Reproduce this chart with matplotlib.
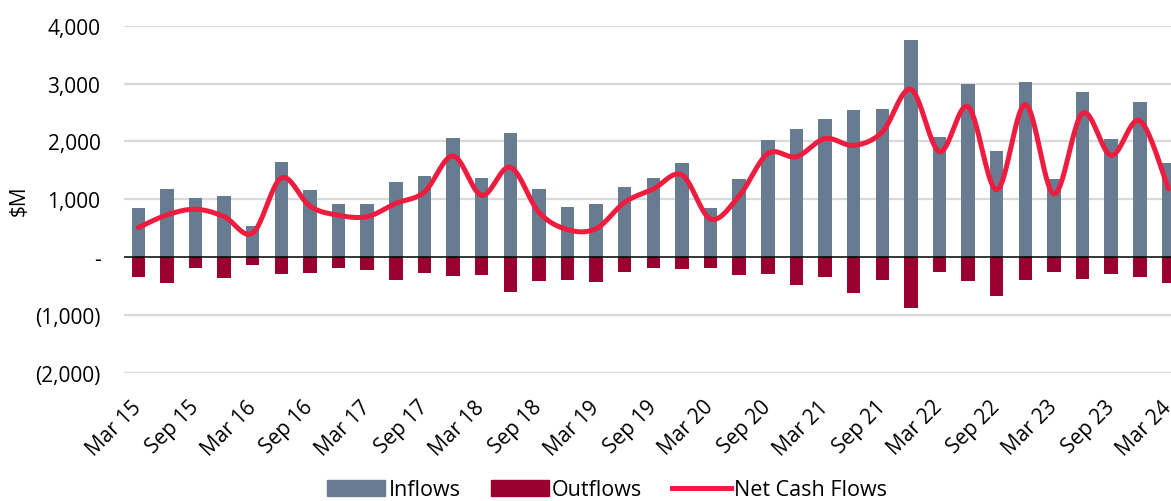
import numpy as np
import matplotlib
matplotlib.use("Agg")
import matplotlib.pyplot as plt
from matplotlib.patches import Patch
from matplotlib.lines import Line2D

plt.rcParams['font.family'] = ['Open Sans', 'DejaVu Sans']

# quarterly data, Mar 15 .. Mar 24 ($M)
quarters = ["Mar 15", "Jun 15", "Sep 15", "Dec 15", "Mar 16", "Jun 16", "Sep 16", "Dec 16",
            "Mar 17", "Jun 17", "Sep 17", "Dec 17", "Mar 18", "Jun 18", "Sep 18", "Dec 18",
            "Mar 19", "Jun 19", "Sep 19", "Dec 19", "Mar 20", "Jun 20", "Sep 20", "Dec 20",
            "Mar 21", "Jun 21", "Sep 21", "Dec 21", "Mar 22", "Jun 22", "Sep 22", "Dec 22",
            "Mar 23", "Jun 23", "Sep 23", "Dec 23", "Mar 24"]
inflows = [857, 1180, 1019, 1054, 546, 1641, 1157, 915, 921, 1306, 1399, 2066, 1370,
           2147, 1180, 864, 921, 1209, 1364, 1623, 846, 1347, 2026, 2221, 2383, 2549,
           2556, 3753, 2078, 2998, 1831, 3028, 1352, 2850, 2038, 2682, 1634]
outflows = [-345, -449, -190, -352, -128, -283, -276, -190, -219, -392, -271, -323, -300,
            -594, -404, -387, -427, -259, -185, -202, -185, -306, -283, -484, -340, -617,
            -392, -876, -254, -409, -668, -392, -259, -369, -283, -335, -449]
net = [512, 731, 829, 702, 418, 1370, 881, 725, 702, 930, 1128, 1750, 1070, 1553, 776,
       477, 494, 950, 1179, 1421, 661, 1060, 1790, 1737, 2050, 1932, 2164, 2900, 1824,
       2600, 1163, 2640, 1093, 2490, 1760, 2360, 1185]

c_in = "#677C91"
c_out = "#990030"
c_net = "#EE1C3F"

x = np.arange(len(quarters))


def smooth(xs, ys, n=20):
    # excel-style smoothed line (catmull-rom bezier)
    xs = np.asarray(xs, float)
    ys = np.asarray(ys, float)
    px = np.concatenate([[xs[0]], xs, [xs[-1]]])
    py = np.concatenate([[ys[0]], ys, [ys[-1]]])
    ox, oy = [], []
    t = np.linspace(0, 1, n, endpoint=False)
    for i in range(1, len(px) - 2):
        p0 = np.array([px[i], py[i]])
        p3 = np.array([px[i + 1], py[i + 1]])
        p1 = p0 + (p3 - np.array([px[i - 1], py[i - 1]])) / 6
        p2 = p3 - (np.array([px[i + 2], py[i + 2]]) - p0) / 6
        for tt in t:
            b = ((1 - tt) ** 3 * p0 + 3 * (1 - tt) ** 2 * tt * p1
                 + 3 * (1 - tt) * tt ** 2 * p2 + tt ** 3 * p3)
            ox.append(b[0])
            oy.append(b[1])
    ox.append(xs[-1])
    oy.append(ys[-1])
    return ox, oy


fig = plt.figure(figsize=(11.71, 5.02), dpi=100)
ax = fig.add_axes([124 / 1171, 1 - 374 / 502, 1 - 124 / 1171, (374 - 26.7) / 502])

for v in [-2000, -1000, 1000, 2000, 3000, 4000]:
    ax.axhline(v, color="#D9D9D9", lw=1.6, zorder=0)

ax.bar(x, inflows, width=0.47, color=c_in, zorder=2)
ax.bar(x, outflows, width=0.47, color=c_out, zorder=2)
ax.axhline(0, color="black", lw=1.1, zorder=3)
sx, sy = smooth(x, net)
ax.plot(sx, sy, color=c_net, lw=3.6, solid_capstyle="round", zorder=4)

ax.set_xlim(-0.5, 36.09)
ax.set_ylim(-2000, 4000)
ax.set_yticks([4000, 3000, 2000, 1000, 0, -1000, -2000])
ax.set_yticklabels(["4,000", "3,000", "2,000", "1,000", "-", "(1,000)", "(2,000)"])
ax.set_xticks(x[::2])
ax.set_xticklabels(quarters[::2], rotation=45, ha="right", va="center",
                   rotation_mode="anchor")
ax.tick_params(axis="y", length=0, pad=17, labelsize=15)
ax.tick_params(axis="x", length=0, pad=22, labelsize=15)
for s in ax.spines.values():
    s.set_visible(False)
ax.set_ylabel("$M", fontsize=15, labelpad=4)

handles = [Patch(color=c_in, label="Inflows"),
           Patch(color=c_out, label="Outflows"),
           Line2D([0], [0], color=c_net, lw=3.6, label="Net Cash Flows")]
fig.legend(handles=handles, loc="center", bbox_to_anchor=(607 / 1171, 0.022), ncol=3,
           frameon=False, fontsize=15.5, handlelength=2.7, handletextpad=0.15,
           columnspacing=1.4, handleheight=0.75)

fig.savefig("out.png", dpi=100)
